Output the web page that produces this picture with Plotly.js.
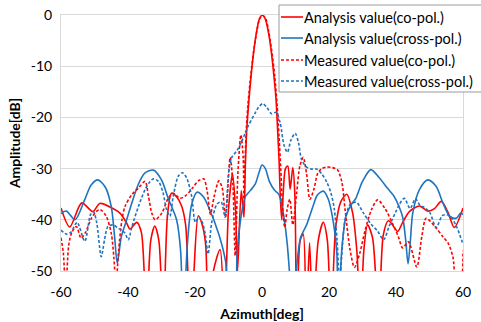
<!DOCTYPE html>
<html>
<head>
<meta charset="utf-8">
<script src="https://cdn.plot.ly/plotly-3.0.1.min.js"></script>
<style>html,body{margin:0;padding:0;background:#fff;overflow:hidden;}#chart{width:481px;height:322px;}</style>
</head>
<body>
<div id="chart"></div>
<script>
// Analysis value (co-pol.)
const coAnaAz = [-60,-57.4,-53.8,-50.5,-48.4,-44.5,-42.4,-40.5,-39.4,-37.4,-36,-34.5,-33.2,-32,-30.8,-29.5,-28.2,-27,-25.5,-24,-22.8,-22,-21,-20.3,-19,-17.7,-16.8,-16,-14.5,-12.5,-11.2,-10,-8.8,-7.9,-7.3,-6.2,-5.4,-5.0,-4.6,-3.9,-3.2,-2.4,-1.6,-0.8,0.1,1.0,1.9,2.7,3.5,4.2,4.7,5.1,5.5,5.9,6.4,7.0,7.7,8.4,9.2,9.8,10.4,11.4,12.3,13.2,14.2,15.2,16.8,18.3,19.5,20.6,22,23.5,25.3,27,28.3,29.4,30.4,31.5,33,34.8,36.2,37.7,39.5,40.5,42,44,47,49.5,51.5,53.5,55.5,57.4,60];
const coAnaDb = [-37.7,-41.4,-36.7,-38.4,-36.8,-37.8,-38.7,-40.5,-41.8,-40.5,-42.5,-60,-44,-41.2,-44,-60,-39,-34.8,-35.5,-37.3,-41,-52,-60,-50,-39.2,-41.3,-45,-60,-50,-45.8,-60,-38,-31,-38,-50,-34.3,-39.5,-30,-23,-16.6,-11.5,-6.8,-3.2,-0.8,0,-0.8,-3.3,-6.8,-11.5,-16.6,-23,-28.5,-36,-40,-34,-30,-29.5,-34,-29.8,-35,-60,-44,-42.8,-60,-44.5,-60,-44,-40.5,-44,-60,-41.5,-36.5,-35,-38.5,-46,-60,-46,-41,-43.5,-60,-43,-40.2,-41.5,-42.3,-40.5,-38.4,-37.3,-38.3,-37.8,-36.4,-38.5,-41.5,-37.7];

// Analysis value (cross-pol.)
const crossAnaAz = [-60,-58.4,-55.8,-53,-51,-49,-46.8,-45,-44,-43.2,-42,-40.5,-39,-37,-35,-32.4,-30,-28,-25.5,-24.3,-23.5,-22.3,-21,-19.4,-17.5,-15.9,-12.9,-10.9,-9.8,-8.3,-7.4,-6.4,-5,-3.5,-2,-1,0,1,2.2,3.7,5,6.3,7.5,8.4,9.2,10.1,11.5,13.3,15.3,16.5,18.3,19.8,21.3,22.3,22.8,23.8,25,26.5,28,30,32.5,35,37.4,39.4,40.9,42,42.9,43.6,44.3,45,47,49.5,52,54,56,58,59.3,60];
const crossAnaDb = [-38.8,-38.3,-40,-36.2,-33.2,-32.2,-33.6,-37.4,-43.3,-48.5,-43.3,-40.2,-37,-33.2,-30.9,-30.3,-32.2,-35.8,-40,-46,-60,-45,-37,-34.6,-35.5,-37.6,-42.8,-48,-55,-55,-46,-40,-35.5,-34.3,-33,-31,-29.3,-30,-32.5,-34.2,-35,-38.5,-44.5,-52,-60,-51,-43.5,-41,-37.2,-35.2,-34.4,-36,-40.5,-46,-58,-46,-39.5,-37.2,-35.8,-32.5,-30.2,-31.8,-33.8,-35.4,-37.4,-39.5,-44,-48.6,-44,-38.7,-34.1,-32.2,-33.5,-36.7,-39.3,-39.7,-38.7,-39];

// Measured value (co-pol.)
const coMeasAz = [-60,-59.3,-58.6,-57.7,-56.8,-55.4,-54,-52.7,-51,-49.5,-48.3,-46.5,-45,-44.2,-43.6,-42.8,-41.8,-40.9,-38.9,-36.9,-34.9,-33.9,-32.9,-31.9,-29.9,-28,-26.5,-24.5,-23,-21,-19,-17.4,-16.4,-15.4,-14.3,-12.9,-11.9,-10.9,-9.5,-8.7,-8,-7.2,-6.3,-5.6,-5.4,-4.8,-4.2,-3.3,-2.4,-1.5,-0.6,0.2,1.1,2.0,2.9,3.8,4.5,5.1,5.6,6.1,6.8,7.5,8.3,9.2,10.3,11.3,12.3,13.3,14.3,15.5,16.6,17.8,19.3,21,22.5,23.8,24.8,26.3,27.6,29.2,30.8,32.7,34.5,36.7,38.8,40.7,42,43.7,46.2,47.7,49,51.6,54,55.6,57,58,59.3,60];
const coMeasDb = [-43.5,-46.5,-54,-45,-42.5,-41.3,-43.6,-42.5,-39.8,-38.4,-38,-39.3,-42.6,-47.5,-53,-46,-40,-37.4,-35.1,-33.8,-32.5,-35.4,-38.7,-40,-38.7,-35.8,-34.8,-35.8,-35.4,-34,-32.4,-32,-34.3,-38.9,-35.5,-32.4,-33.7,-39.5,-27.8,-33,-47,-31,-23.4,-28,-36,-24,-17.5,-11.5,-6.6,-3,-0.6,-0.1,-0.7,-3.2,-7,-12,-17.5,-24,-30,-37,-41.5,-38,-36,-41,-35,-29.5,-27.8,-31,-36,-34,-31,-30,-29.7,-29.8,-30.2,-32.5,-38,-45.9,-49.3,-46.5,-42,-38,-36.1,-37.8,-40.5,-43.3,-45.5,-44.3,-49.2,-43.3,-39.7,-41.3,-43.3,-44.6,-47.3,-52,-52,-46];

// Measured value (cross-pol.)
const crossMeasAz = [-60,-58.4,-57,-55.2,-52.9,-51.2,-50.3,-49.3,-48,-47,-46,-44.5,-43,-42,-40.9,-39.9,-38.9,-36.9,-34.9,-33.4,-32.4,-30.9,-29.5,-28.5,-27.5,-26.5,-25,-23.8,-22.5,-21,-19.9,-18.9,-17.8,-16.9,-16.1,-15,-13.5,-12.2,-11,-9.9,-9,-7.5,-6,-4.2,-2.1,-1,0.2,1.4,2.9,4.2,5.4,6.6,7.6,8.6,9.9,10.9,11.8,13.3,14.8,16.3,17.8,19.3,20.6,21.6,22.4,23.2,24,24.8,26.3,28.2,30.2,32.5,34.5,36.3,38,39.9,41,42.5,44.2,45.8,47.2,48.5,50.1,52,53.8,55.2,56.4,58.2,60];
const crossMeasDb = [-42,-42.8,-42.4,-40.5,-44.2,-39,-38.4,-40.7,-47.2,-43.9,-41.3,-41,-41.6,-42,-42.6,-43.9,-41.5,-37.4,-34.1,-32.5,-32,-32.5,-34.8,-38,-39.3,-35.4,-31.5,-30.8,-31.8,-35.4,-40.5,-39.5,-40.5,-43,-46.7,-40.5,-37,-36.5,-39.5,-30.4,-27.8,-26.5,-24.6,-21.8,-19.2,-18,-17.3,-18,-19.3,-19,-21,-25.5,-26.8,-24.5,-23.1,-25,-28.2,-29.7,-30.1,-30.1,-31,-32.6,-34.8,-38,-44,-52,-45,-40,-37,-36.6,-38.6,-40.8,-42.2,-43.9,-41.2,-38.5,-37,-35.8,-37.8,-35.9,-37.2,-37.6,-38.6,-41.5,-39.2,-39,-39.5,-41.5,-44.8];

const names = ['Analysis value(co-pol.)','Analysis value(cross-pol.)','Measured value(co-pol.)','Measured value(cross-pol.)'];
const xTicks = [-60,-40,-20,0,20,40,60];
const yTicks = [0,-10,-20,-30,-40,-50];

const RED = '#ff0000', BLUE = '#1f74c0';
const colors = [RED, BLUE, RED, BLUE];
const dashes = ['solid', 'solid', '3px,2px', '3px,2px'];
const series = [[coAnaAz, coAnaDb], [crossAnaAz, crossAnaDb], [coMeasAz, coMeasDb], [crossMeasAz, crossMeasDb]];

const data = series.map((s, i) => ({
  x: s[0], y: s[1], name: names[i], type: 'scatter', mode: 'lines',
  line: {color: colors[i], width: 1.6, dash: dashes[i], shape: 'spline', smoothing: 0.8}
}));

// legend drawn as a box (paper coordinates), matching the reference placement
const L = 61, W = 402, B = 271, H = 256;
const px = v => (v - L) / W, py = v => (B - v) / H;
const rowsY = [17, 38, 60, 81];
const shapes = [{type: 'rect', xref: 'paper', yref: 'paper', x0: px(279), x1: px(484), y0: py(92), y1: py(5),
  line: {color: '#9a9a9a', width: 1}, fillcolor: '#ffffff', layer: 'above'}];
const annotations = [];
names.forEach((n, i) => {
  shapes.push({type: 'line', xref: 'paper', yref: 'paper', x0: px(281), x1: px(303), y0: py(rowsY[i]), y1: py(rowsY[i]),
    line: {color: colors[i], width: 1.6, dash: dashes[i]}, layer: 'above'});
  annotations.push({xref: 'paper', yref: 'paper', x: px(302), y: py(rowsY[i]), xanchor: 'left', yanchor: 'middle',
    text: n, showarrow: false, font: {family: 'Lato, sans-serif', size: 14.5, color: '#000'}});
});

const gridC = '#d9d9d9';
const layout = {
  width: 481, height: 322,
  margin: {l: 61, r: 18, t: 15, b: 51, pad: 0, autoexpand: false},
  paper_bgcolor: '#fff', plot_bgcolor: '#fff',
  font: {family: 'Lato, "Open Sans", sans-serif', size: 14, color: '#000'},
  showlegend: false,
  shapes: shapes,
  annotations: annotations,
  xaxis: {range: [-60, 60], tickvals: xTicks, ticktext: xTicks.map(String),
    showgrid: false, zeroline: false, showline: true, mirror: true, linecolor: gridC, linewidth: 1,
    ticks: '', ticklabelstandoff: 8,
    title: {text: '<b>Azimuth[deg]</b>', font: {size: 14}, standoff: 11}},
  yaxis: {range: [-50, 0], tickvals: yTicks, ticktext: yTicks.map(String),
    showgrid: true, gridcolor: gridC, gridwidth: 1, zeroline: false,
    showline: true, mirror: true, linecolor: gridC, linewidth: 1,
    ticks: '', ticklabelstandoff: 5,
    title: {text: '<b>Amplitude[dB]</b>', font: {size: 14}, standoff: 6}}
};
Plotly.newPlot('chart', data, layout, {staticPlot: true, displayModeBar: false});
</script>
</body>
</html>
